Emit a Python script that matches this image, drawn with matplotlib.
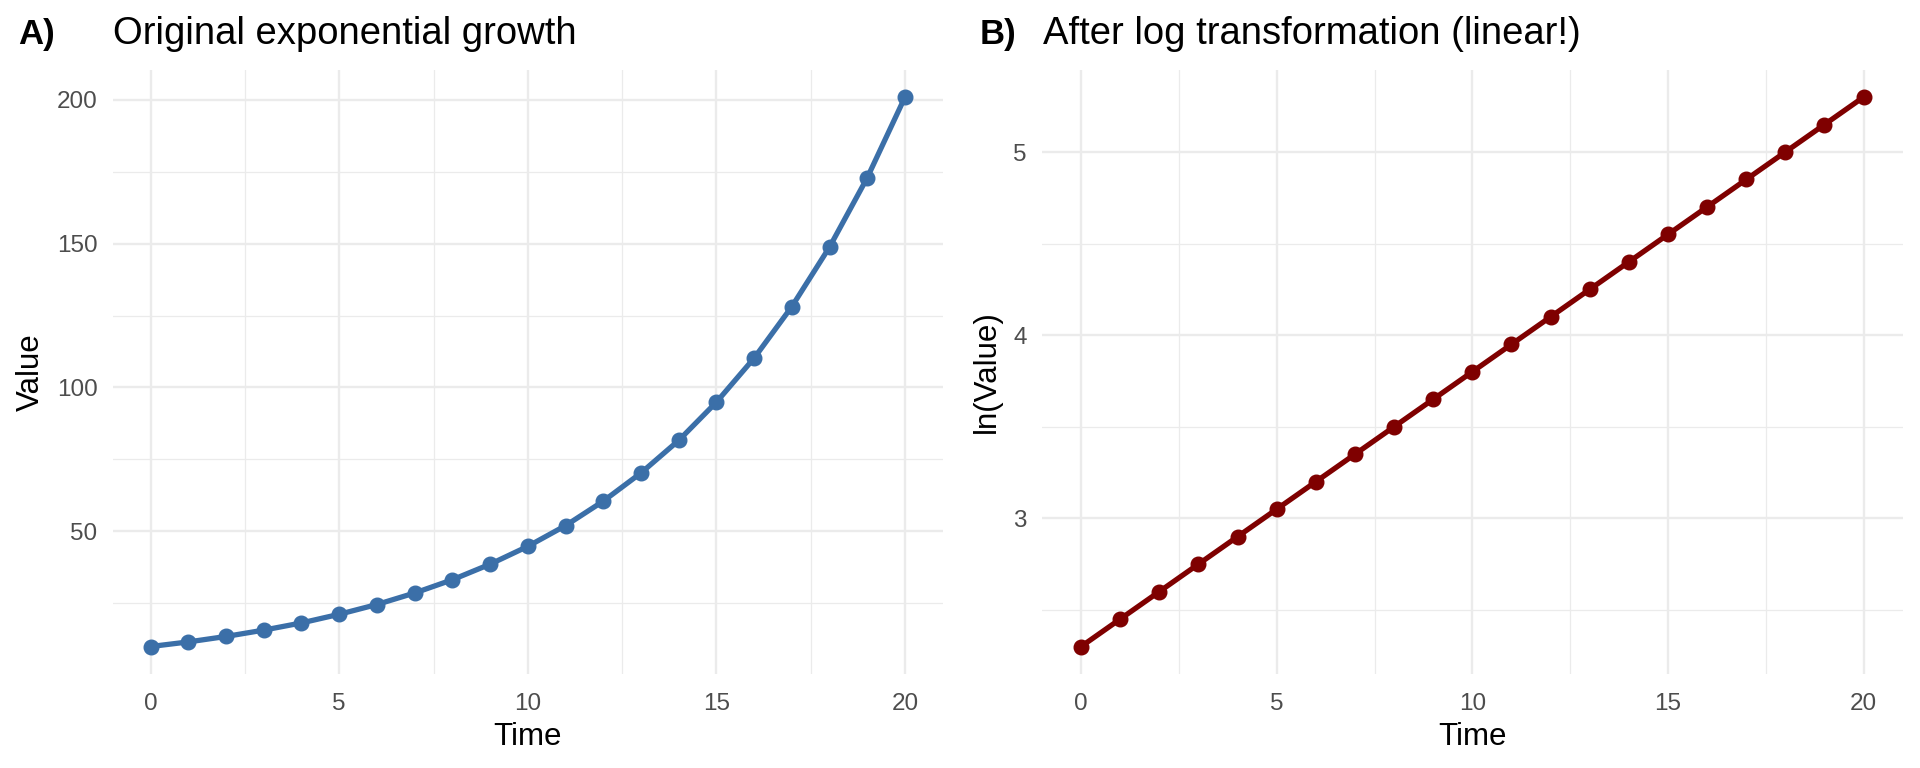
import numpy as np
import matplotlib.pyplot as plt
from matplotlib.ticker import MultipleLocator

plt.rcParams['font.family'] = ['Liberation Sans', 'DejaVu Sans']

# values
time = [0, 1, 2, 3, 4, 5, 6, 7, 8, 9, 10, 11, 12, 13, 14, 15, 16, 17, 18, 19, 20]
value = [10.0, 11.6, 13.5, 15.7, 18.2, 21.2, 24.6, 28.6, 33.2, 38.6, 44.8,
         52.0, 60.5, 70.3, 81.6, 94.9, 110.2, 128.1, 148.8, 172.9, 200.9]
log_value = [2.30, 2.45, 2.60, 2.75, 2.90, 3.05, 3.20, 3.35, 3.50, 3.65, 3.80,
             3.95, 4.10, 4.25, 4.40, 4.55, 4.70, 4.85, 5.00, 5.15, 5.30]

blue = '#3b6fa8'
red = '#7f0000'
grid_col = '#ebebeb'

fig = plt.figure(figsize=(19.2, 7.68), dpi=100)
ax1 = fig.add_axes([0.0588, 0.1224, 0.4322, 0.787])
ax2 = fig.add_axes([0.5427, 0.1224, 0.4483, 0.787])


def style(ax, x, y, ymajor, yminor):
    pad_x = (max(x) - min(x)) * 0.05
    pad_y = (max(y) - min(y)) * 0.05
    ax.set_xlim(min(x) - pad_x, max(x) + pad_x)
    ax.set_ylim(min(y) - pad_y, max(y) + pad_y)
    ax.xaxis.set_major_locator(MultipleLocator(5))
    ax.xaxis.set_minor_locator(MultipleLocator(2.5))
    ax.yaxis.set_major_locator(MultipleLocator(ymajor))
    ax.yaxis.set_minor_locator(MultipleLocator(yminor))
    ax.grid(which='major', color=grid_col, linewidth=1.7)
    ax.grid(which='minor', color=grid_col, linewidth=0.9)
    ax.set_axisbelow(True)
    for s in ax.spines.values():
        s.set_visible(False)
    ax.tick_params(which='both', length=0, labelsize=17.5, labelcolor='#4d4d4d')
    ax.tick_params(axis='x', pad=14)
    ax.tick_params(axis='y', pad=11)
    ax.set_xlabel('Time', fontsize=22.5, labelpad=5)


ax1.plot(time, value, color=blue, linewidth=3.8, marker='o', markersize=10.5)
style(ax1, time, value, 50, 25)
ax1.set_ylabel('Value', fontsize=22.5, labelpad=8)

ax2.plot(time, log_value, color=red, linewidth=3.8, marker='o', markersize=10.5)
style(ax2, time, log_value, 1, 0.5)
ax2.set_ylabel('ln(Value)', fontsize=22.5, labelpad=8)

fig.text(0.0094, 0.943, 'A)', fontsize=25, fontweight='bold', va='baseline')
fig.text(0.0588, 0.943, 'Original exponential growth', fontsize=27.5, va='baseline')
fig.text(0.5104, 0.943, 'B)', fontsize=25, fontweight='bold', va='baseline')
fig.text(0.5432, 0.943, 'After log transformation (linear!)', fontsize=27.5, va='baseline')

fig.savefig('out.png', dpi=100, facecolor='white')
